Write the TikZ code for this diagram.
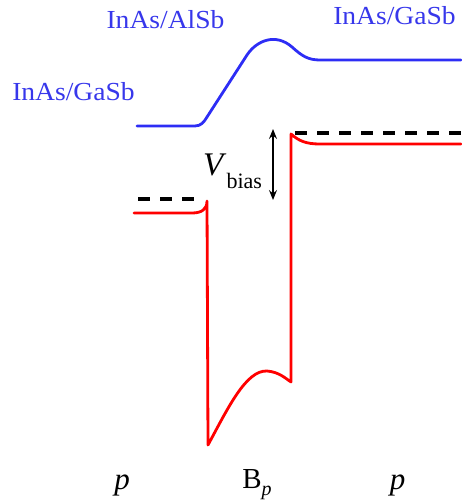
\documentclass[tikz,border=0pt]{standalone}
\usepackage{fontspec}
\setmainfont{Liberation Serif}
\usetikzlibrary{arrows.meta}
\definecolor{bandblue}{RGB}{45,45,245}
\definecolor{textblue}{RGB}{55,55,235}
\definecolor{bandred}{RGB}{255,0,0}
\tikzset{
  bandline/.style={line width=2.8pt, line join=round, line cap=round},
  fermi/.style={line width=3.4pt, dash pattern=on 12pt off 10pt},
  toplbl/.style={inner sep=0pt, anchor=base, text=textblue, font=\fontsize{26}{30}\selectfont},
  botlbl/.style={inner sep=0pt, anchor=base, font=\fontsize{31}{36}\selectfont},
}
\begin{document}
\begin{tikzpicture}[x=1pt,y=-1pt]
\useasboundingbox (0,0) rectangle (461,501);
% labels
\node[toplbl] (alsb) at (165.5,28) {\scalebox{1.06}[1]{InAs/AlSb}};
\node[toplbl] (gasbR) at (394.5,24) {\scalebox{1.06}[1]{InAs/GaSb}};
\node[toplbl] (gasbL) at (73.5,100) {\scalebox{1.06}[1]{InAs/GaSb}};
% blue band (conduction)
\draw[bandline, bandblue] (137,126) -- (195,126)
  .. controls (201,126) and (204,122) .. (207,117)
  -- (247,55)
  .. controls (257,40) and (276,33) .. (292,47)
  .. controls (302,56) and (308,60) .. (320,60) -- (461,60);
% fermi levels
\draw[fermi] (138,199) -- (196,199);
\draw[fermi] (295,133) -- (461,133);
% red band (valence)
\draw[bandline, bandred] (134,213) -- (192,213)
  .. controls (202,213) and (207,209) .. (207,201)
  -- (208,445)
  .. controls (228,408) and (246,370) .. (267,371)
  .. controls (279,372) and (285,378) .. (291,382)
  -- (291,134)
  .. controls (299,141) and (306,144) .. (320,144) -- (461,144);
% bias arrow
\coordinate (vtop) at (273,129);
\coordinate (vbot) at (273,200);
\draw[line width=1.2pt, {Stealth[length=10pt,width=8pt,inset=3.5pt]}-{Stealth[length=10pt,width=8pt,inset=3.5pt]}] (vtop) -- (vbot);
\node[inner sep=0pt, anchor=base west] (vbias) at (203,175)
  {\fontsize{33}{38}\selectfont\textit{V}\hspace{0pt}\raisebox{-13pt}{\fontsize{22}{25}\selectfont bias}};
% bottom labels
\node[botlbl] (pL) at (122,489) {\textit{p}};
\node[botlbl] (bp) at (257,488) {\fontsize{29}{34}\selectfont B\raisebox{-7pt}{\fontsize{20}{24}\selectfont\textit{p}}};
\node[botlbl] (pR) at (397.5,489) {\textit{p}};
\end{tikzpicture}
\end{document}
